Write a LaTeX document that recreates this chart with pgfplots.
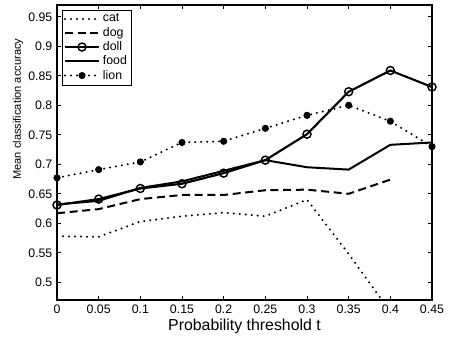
\documentclass[border=0pt]{standalone}
\usepackage{pgfplots}
\pgfplotsset{compat=1.18}
\usepackage{fontspec}
\setmainfont{Liberation Sans}
\begin{document}
\begin{tikzpicture}
\begin{axis}[
  scale only axis,
  width=281.25pt, height=221.25pt,
  xmin=0, xmax=0.45, ymin=0.47, ymax=0.97,
  xtick={0,0.05,0.1,0.15,0.2,0.25,0.3,0.35,0.4,0.45},
  xticklabels={0,0.05,0.1,0.15,0.2,0.25,0.3,0.35,0.4,0.45},
  ytick={0.5,0.55,0.6,0.65,0.7,0.75,0.8,0.85,0.9,0.95},
  yticklabels={0.5,0.55,0.6,0.65,0.7,0.75,0.8,0.85,0.9,0.95},
  tick align=inside,
  xtick pos=both, ytick pos=both,
  xticklabel pos=bottom, yticklabel pos=left,
  major tick length=3pt,
  tick style={black, line width=0.5pt},
  axis line style={black, line width=0.8pt},
  tick label style={font=\fontsize{9.25}{11}\selectfont},
  /pgf/number format/assume math mode=true,
  xlabel={Probability threshold t},
  ylabel={Mean classification accuracy},
  xlabel style={font=\fontsize{11.9}{14}\selectfont, at={(axis description cs:0.5,0)}, anchor=north, yshift=-11pt},
  ylabel style={font=\fontsize{8.3}{10}\selectfont, at={(axis description cs:-0.104,0.647)}, anchor=center},
  legend style={at={(axis description cs:0.014,0.984)}, anchor=north west,
    font=\fontsize{9.25}{11}\selectfont, draw=black,
    inner sep=1pt, row sep=-1.5pt, cells={anchor=west}},
  legend image code/.code={\draw[mark repeat=2,mark phase=2,#1] plot coordinates {(0cm,0cm) (0.45cm,0cm) (0.9cm,0cm)};},
  clip=true,
]
\addplot[black, line cap=round, dash pattern=on 0pt off 4.5pt, line width=1.7pt] coordinates {
(0,0.578) (0.05,0.577) (0.1,0.603) (0.15,0.612) (0.2,0.618) (0.25,0.612) (0.3,0.640) (0.35,0.548) (0.4,0.45)};
\addlegendentry{cat}
\addplot[black, dash pattern=on 6pt off 3.5pt, line cap=butt, line width=1.5pt] coordinates {
(0,0.617) (0.05,0.624) (0.1,0.641) (0.15,0.648) (0.2,0.648) (0.25,0.656) (0.3,0.657) (0.35,0.650) (0.4,0.674)};
\addlegendentry{dog}
\addplot[black, solid, line width=1.6pt, mark=o, mark size=3pt, mark options={line width=1.1pt, fill=none}] coordinates {
(0,0.631) (0.05,0.641) (0.1,0.659) (0.15,0.667) (0.2,0.685) (0.25,0.707) (0.3,0.751) (0.35,0.823) (0.4,0.859) (0.45,0.831)};
\addlegendentry{doll}
\addplot[black, solid, line width=1.5pt] coordinates {
(0,0.632) (0.05,0.638) (0.1,0.660) (0.15,0.671) (0.2,0.689) (0.25,0.707) (0.3,0.695) (0.35,0.691) (0.4,0.733) (0.45,0.737)};
\addlegendentry{food}
\addplot[black, line cap=round, dash pattern=on 0pt off 4.5pt, line width=1.7pt, mark=*, mark size=2.4pt, mark options={solid, fill=black, line width=0.5pt}] coordinates {
(0,0.677) (0.05,0.691) (0.1,0.704) (0.15,0.737) (0.2,0.739) (0.25,0.761) (0.3,0.783) (0.35,0.800) (0.4,0.773) (0.45,0.730)};
\addlegendentry{lion}
\end{axis}
\pgfresetboundingbox
\path[use as bounding box] ([shift={(-42.75pt,-27.75pt)}]current axis.south west) rectangle ([shift={(14.25pt,3.75pt)}]current axis.north east);
\end{tikzpicture}
\end{document}
